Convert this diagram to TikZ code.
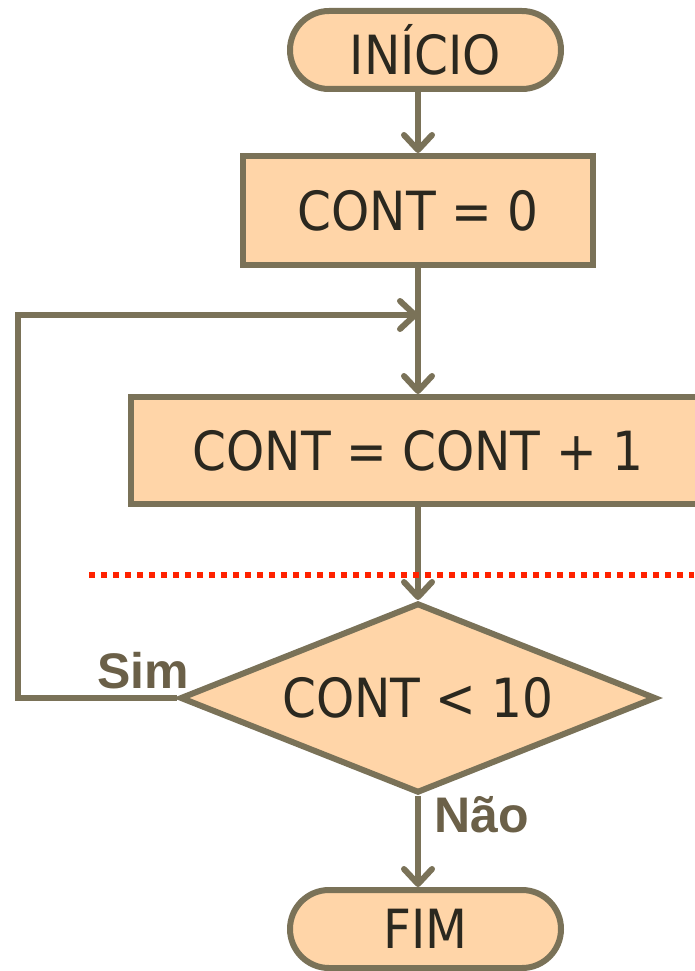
\documentclass[tikz,border=0pt]{standalone}
\usepackage{fontspec}
\setmainfont{DejaVu Sans Condensed}
\newfontfamily\labelfont{Liberation Sans}
\usetikzlibrary{shapes.geometric,arrows.meta}
\definecolor{boxfill}{HTML}{FFD5A8}
\definecolor{boxline}{HTML}{7A7258}
\definecolor{boxtext}{HTML}{2B281F}
\definecolor{labeltext}{HTML}{6B6048}
\definecolor{cutline}{HTML}{FF2200}
\tikzset{
  flow/.style={draw=boxline, line width=6pt, fill=boxfill, text=boxtext,
    inner sep=0pt, font=\fontsize{54}{64}\selectfont},
  terminal/.style={flow, rectangle, rounded corners=39pt,
    minimum width=271pt, minimum height=78pt},
  process/.style={flow, rectangle, minimum height=109pt},
  decision/.style={flow, diamond, aspect=2.5, minimum width=476pt, minimum height=190pt},
  flowline/.style={draw=boxline, line width=6pt,
    -{Straight Barb[length=15pt,width=28pt,line cap=round,line join=round]}},
  answer/.style={text=labeltext, font=\labelfont\bfseries\fontsize{50}{60}\selectfont}
}
\begin{document}
\begin{tikzpicture}[x=1pt,y=-1pt]
  \useasboundingbox (0,0) rectangle (694,971);
  \node[terminal] (ini) at (425.5,50) {INÍCIO};
  \node[process, minimum width=350pt] (zero) at (418,210.5) {CONT = 0};
  \node[process, minimum width=574pt, minimum height=107pt] (incr) at (418,450.5) {CONT = CONT + 1};
  \node[decision] (test) at (418,698) {CONT < 10};
  \node[terminal] (fim) at (425.5,929) {FIM};
  \coordinate (back) at (18,698);
  \coordinate (loop) at (418,315);
  \node[answer] (sim) at (143,671) {Sim};
  \node[answer] (nao) at (482,815) {Não};
  \begin{scope}
    \draw[flowline] (zero.north |- ini.south) -- (zero.north);
    \draw[flowline] (zero.south) -- (incr.north);
    \draw[flowline, line join=miter] (test.west) -- (back) |- (loop);
    \draw[flowline] (incr.south) -- (test.north);
    \draw[flowline] (test.south) -- (fim.north -| test.south);
  \end{scope}
  \draw[cutline, line width=6pt, dash pattern=on 6pt off 6pt] (89,575) -- (694,575);
\end{tikzpicture}
\end{document}
